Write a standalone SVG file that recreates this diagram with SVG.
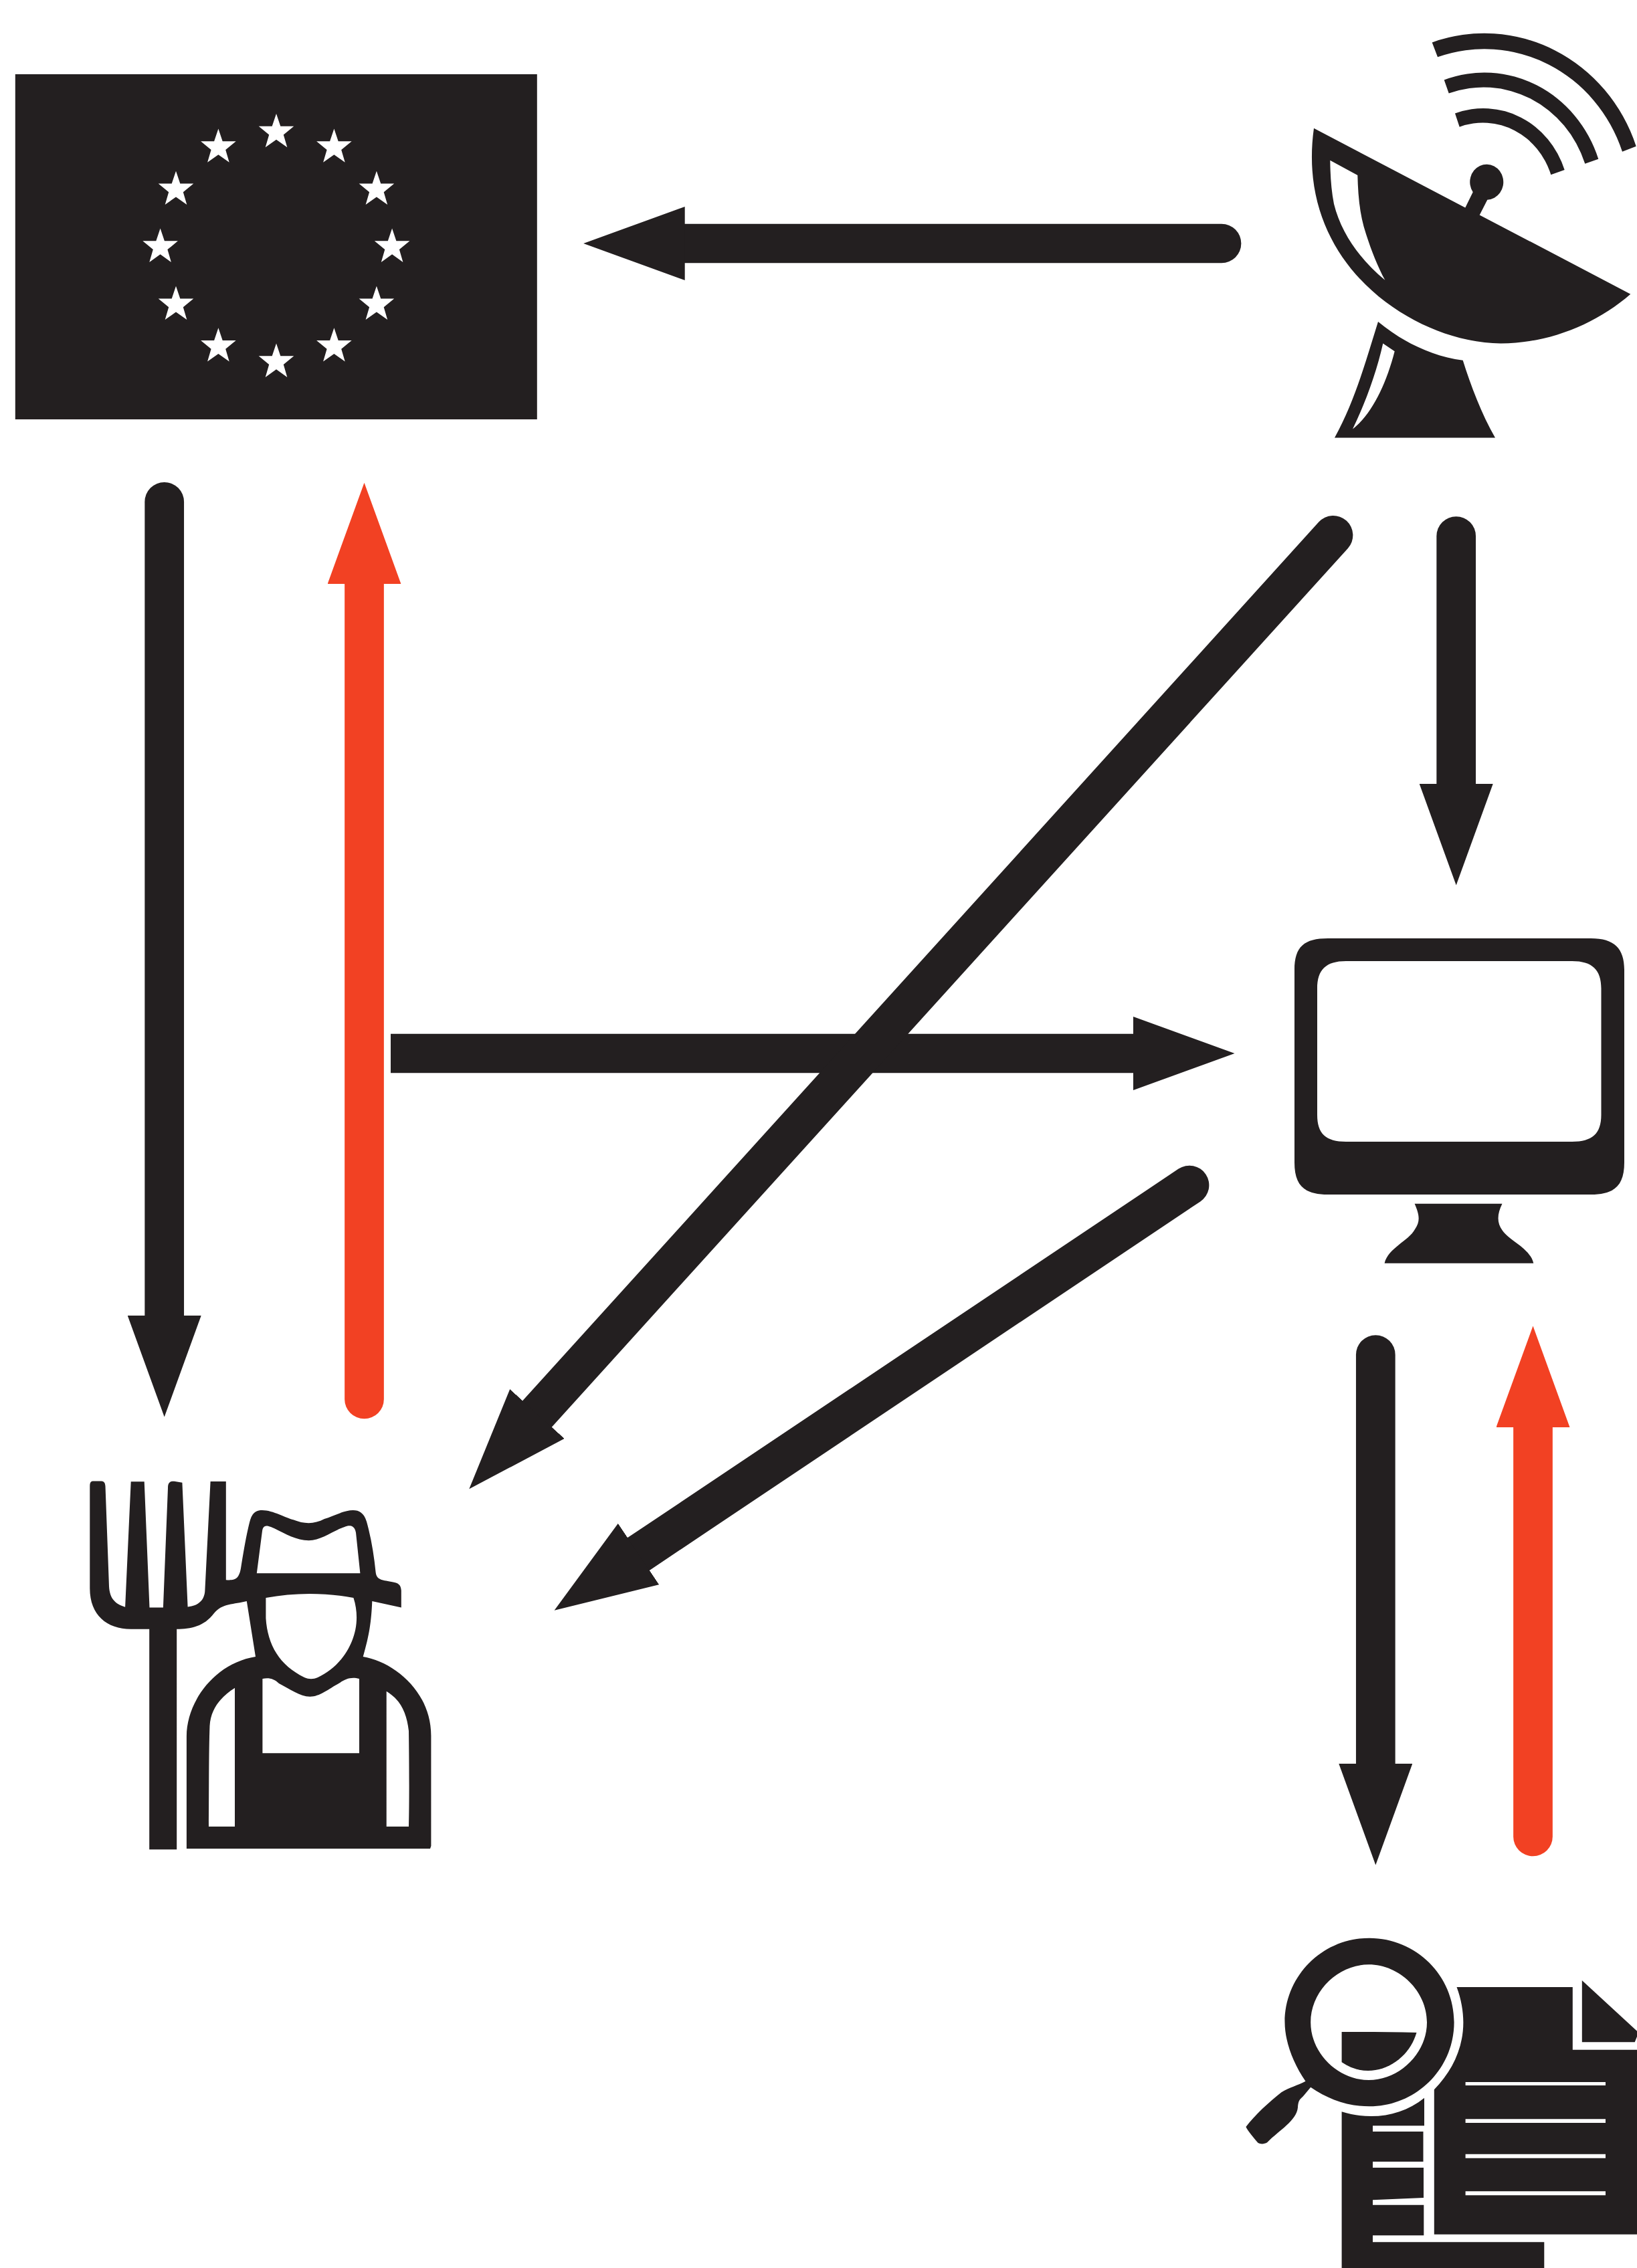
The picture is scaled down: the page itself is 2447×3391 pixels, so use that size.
<svg xmlns="http://www.w3.org/2000/svg" width="2447" height="3391" viewBox="0 0 2447 3391">
<style>
.ink{fill:#231f20;fill-rule:evenodd}
.paper{fill:#fff}
.shaft{fill:none;stroke:#231f20;stroke-width:58.700;stroke-linecap:round}
.red{stroke:#f24123}
.flat{stroke-linecap:butt}
</style>
<defs>
<path id="star" class="paper" d="M0,0 6.300,18.700H26.300L10.800,31.500 16.300,50.300 0,38.700-16.300,50.300-10.800,31.500-26.300,18.700H-6.300Z"/>
<marker id="headK" markerUnits="userSpaceOnUse" markerWidth="152" markerHeight="110" viewBox="0 0 152 110" refX="0" refY="55" orient="auto"><path d="M0,0 151.500,55 0,110Z" fill="#231f20"/></marker>
<marker id="headR" markerUnits="userSpaceOnUse" markerWidth="152" markerHeight="110" viewBox="0 0 152 110" refX="0" refY="55" orient="auto"><path d="M0,0 151.500,55 0,110Z" fill="#f24123"/></marker>
</defs>
<rect width="2447" height="3391" fill="#fff"/>
<g id="connectors">
<path class="shaft" marker-end="url(#headK)" d="M1826,364H1023.700"/>
<path class="shaft" marker-end="url(#headK)" d="M245.700,750.300V1967"/>
<path class="shaft red" marker-end="url(#headR)" d="M544.500,2092V873.300"/>
<path class="shaft flat" marker-end="url(#headK)" d="M584,1575H1694"/>
<path class="shaft" marker-end="url(#headK)" d="M1993,800.300 803,2114"/>
<path class="shaft" marker-end="url(#headK)" d="M2176.700,801.600V1172"/>
<path class="shaft" marker-end="url(#headK)" d="M1778,1772 954.500,2323.500"/>
<path class="shaft" marker-end="url(#headK)" d="M2056.300,2025.600V2637"/>
<path class="shaft red" marker-end="url(#headR)" d="M2291.500,2746V2134"/>
</g>
<g id="eu-flag">
<rect class="ink" x="22.800" y="111" width="780" height="516"/>
<use href="#star" x="413" y="170"/><use href="#star" x="326.400" y="192.500"/><use href="#star" x="499.400" y="192.500"/>
<use href="#star" x="263" y="255.700"/><use href="#star" x="562.900" y="255.700"/><use href="#star" x="239.600" y="341.600"/>
<use href="#star" x="586.100" y="341.600"/><use href="#star" x="263" y="427.800"/><use href="#star" x="562.900" y="427.800"/>
<use href="#star" x="326.400" y="490.300"/><use href="#star" x="499.400" y="490.300"/><use href="#star" x="413" y="513.600"/>
</g>
<g id="satellite">
<path class="ink" d="M2140.700,63.400A240,250 0 0 1 2445.700,218.700L2425,226.700A218,228 0 0 0 2149,85.300Z"/>
<path class="ink" d="M2158.700,119.400A180,190 0 0 1 2389.300,237.700L2369.300,244.800A160,168 0 0 0 2165.700,139.600Z"/>
<path class="ink" d="M2175,169.500A128,135 0 0 1 2338.700,254L2318.300,261.200A107,113 0 0 0 2181.700,189.700Z"/>
<path class="ink" d="M1964,191.800 2190.300,310.500 2201.700,287.300A25,26.500 0 1 1 2223.300,298.700L2211.700,321.400 2437.300,439.700C2385,485 2315,513.400 2243.300,513.400C2120,513.400 1935,400 1964,191.800ZM1988.300,239.800 2029.300,262C2030,290 2032,320 2042,350C2050,375 2060,400 2070.300,418.700C2035,390 2005,350 1994,305C1990,285 1988.500,262 1988.300,239.800Z"/>
<path class="ink" d="M2060,481C2095,510 2140,533 2186.700,538.700C2198,575 2215,620 2235,654.400L1995,654.400C2025,600 2040,545 2060,481ZM2067.300,513.400C2058,555 2042,600 2022,641.400C2050,620 2072,575 2084.700,525.200Z"/>
</g>
<g id="monitor">
<path class="ink" d="M1935,1450C1935,1415 1950,1403 1985,1403L2378,1403C2413,1403 2428,1418 2428,1450L2428,1738C2428,1773 2413,1786 2378,1786L1985,1786C1950,1786 1935,1773 1935,1738ZM1969,1478L1969,1667C1969,1695 1982,1707 2012,1707L2350,1707C2380,1707 2393.500,1695 2393.500,1667L2393.500,1478C2393.500,1450 2380,1437 2350,1437L2012,1437C1982,1437 1969,1450 1969,1478Z"/>
<path class="ink" d="M2114.600,1799.800H2245.500C2238,1815 2237,1828 2246,1840C2256,1855 2287,1866 2292.300,1888.700H2069.600C2075,1866 2106,1855 2115,1838C2124,1825 2121,1815 2114.600,1799.800Z"/>
</g>
<g id="farmer">
<path class="ink" d="M134.300,2222C134.300,2216 136,2214.500 140,2214.500L150,2214.500C155,2214.500 157,2216 157.500,2222L163,2372C164,2390 172,2398 187.100,2402.800L195.700,2215.300H215.700L223.500,2403.500H243.900L251,2225C251,2215 255,2214.500 262,2215L272.400,2216.800L280.600,2402.400C297,2401 306,2392 306.400,2377.500L314.600,2214.900H337.800V2362.200C350,2363 357,2362 360,2345C364,2320 369,2290 374.200,2272C378,2260 385,2258 392,2258C408,2258 428,2270 438.400,2272.300C455,2279 470,2279 484.900,2271.100C497,2267 515,2258 527.700,2258C537,2258 544,2262 548,2275C555,2300 559,2325 561.600,2350.700C563,2362 570,2362 585,2365C596,2367 599,2369 599.800,2378V2403.500L556.300,2394C555,2425 552,2445 542.700,2477C590,2485 644.400,2530 644.400,2595V2760L643,2764H278.900V2595.700C279,2545 320,2487 382,2477L368.800,2394C350,2399 332,2397 320,2412C305,2432 285,2435.700 264.200,2435.700V2765.200H223.200V2435.700H195.700C160,2435.700 134.300,2415 134.300,2375ZM383.800,2352.300H538.400L532,2291.400C530,2280 522,2280 515,2283C497,2289 480,2303.300 461.600,2303.300C440,2303.300 420,2289 405,2283C398,2280 393,2281 392,2289ZM397.400,2389C397.400,2395 397.400,2403 397.400,2419.600C400,2460 418,2490 455,2508C462,2511 468,2511 475,2508C515,2490 545,2440 528.400,2389C485,2381 440,2381 397.400,2389ZM392.400,2510V2621.300H537V2510C525,2507 517,2510 508,2516C490,2526 478,2536.700 463.400,2536.700C448,2536.700 433,2525 417,2517C410,2510 402,2508 392.400,2510ZM351,2523.700C330,2537 315,2555 313.500,2580.400C312,2620 312.500,2680 312,2731.100H351ZM577.700,2528.700V2731.100H611C612,2690 611.600,2630 611,2588C608,2560 598,2541 577.700,2528.700Z"/>
</g>
<g id="document-search">
<path class="ink" d="M1951.500,3111.700C1933,3085 1920.500,3052 1920.500,3023.500C1920.500,2954 1977,2897.700 2047,2897.700C2117,2897.700 2173.600,2954 2173.600,3023.500C2173.600,3093 2117,3149.300 2047,3149.300C2012,3149.300 1985,3138 1959.200,3120.700L1949,3133C1944,3139 1941,3138 1940,3151C1938,3171 1912,3185 1894.200,3203.300C1890,3206 1884,3206 1880.600,3204C1873,3195 1866,3187 1862.400,3180C1875,3163 1898,3142 1915.500,3128.300C1927,3121 1940,3118 1951.500,3111.700ZM2046,2937.300C2000,2937.300 1959.200,2977 1959.200,3023.700C1959.200,3070 2000,3110 2046,3110C2092,3110 2133,3070 2133,3023.700C2133,2977 2092,2937.300 2046,2937.300Z"/>
<path class="ink" d="M2005.600,3038C2042,3038 2080,3038 2117.500,3039C2108,3072 2078,3096 2045,3096C2030,3096 2017,3091 2005.600,3083.300Z"/>
<path class="ink" d="M2005.600,3157.300C2050,3171 2095,3164 2129,3136.700V3178.300H2052V3187H2127.500V3232H2052V3241H2128V3286L2052,3289.300V3296.700H2128.300V3342.300H2052V3352.300H2308.300V3391H2005.600Z"/>
<path class="ink" d="M2177.500,2971H2350.800V3064.700H2447V3340.700H2143.800V3124.300C2182,3085 2200,3032 2177.500,2971ZM2190.600,3113V3118H2400V3113ZM2190.600,3168.300V3174H2400V3168.300ZM2190.600,3220.700V3226.700H2400V3220.700ZM2190.600,3276.300V3282.300H2400V3276.300Z"/>
<path class="ink" d="M2364.800,2961 2447,3036.700V3045L2443.700,3053.300H2364.800Z"/>
</g>
</svg>
